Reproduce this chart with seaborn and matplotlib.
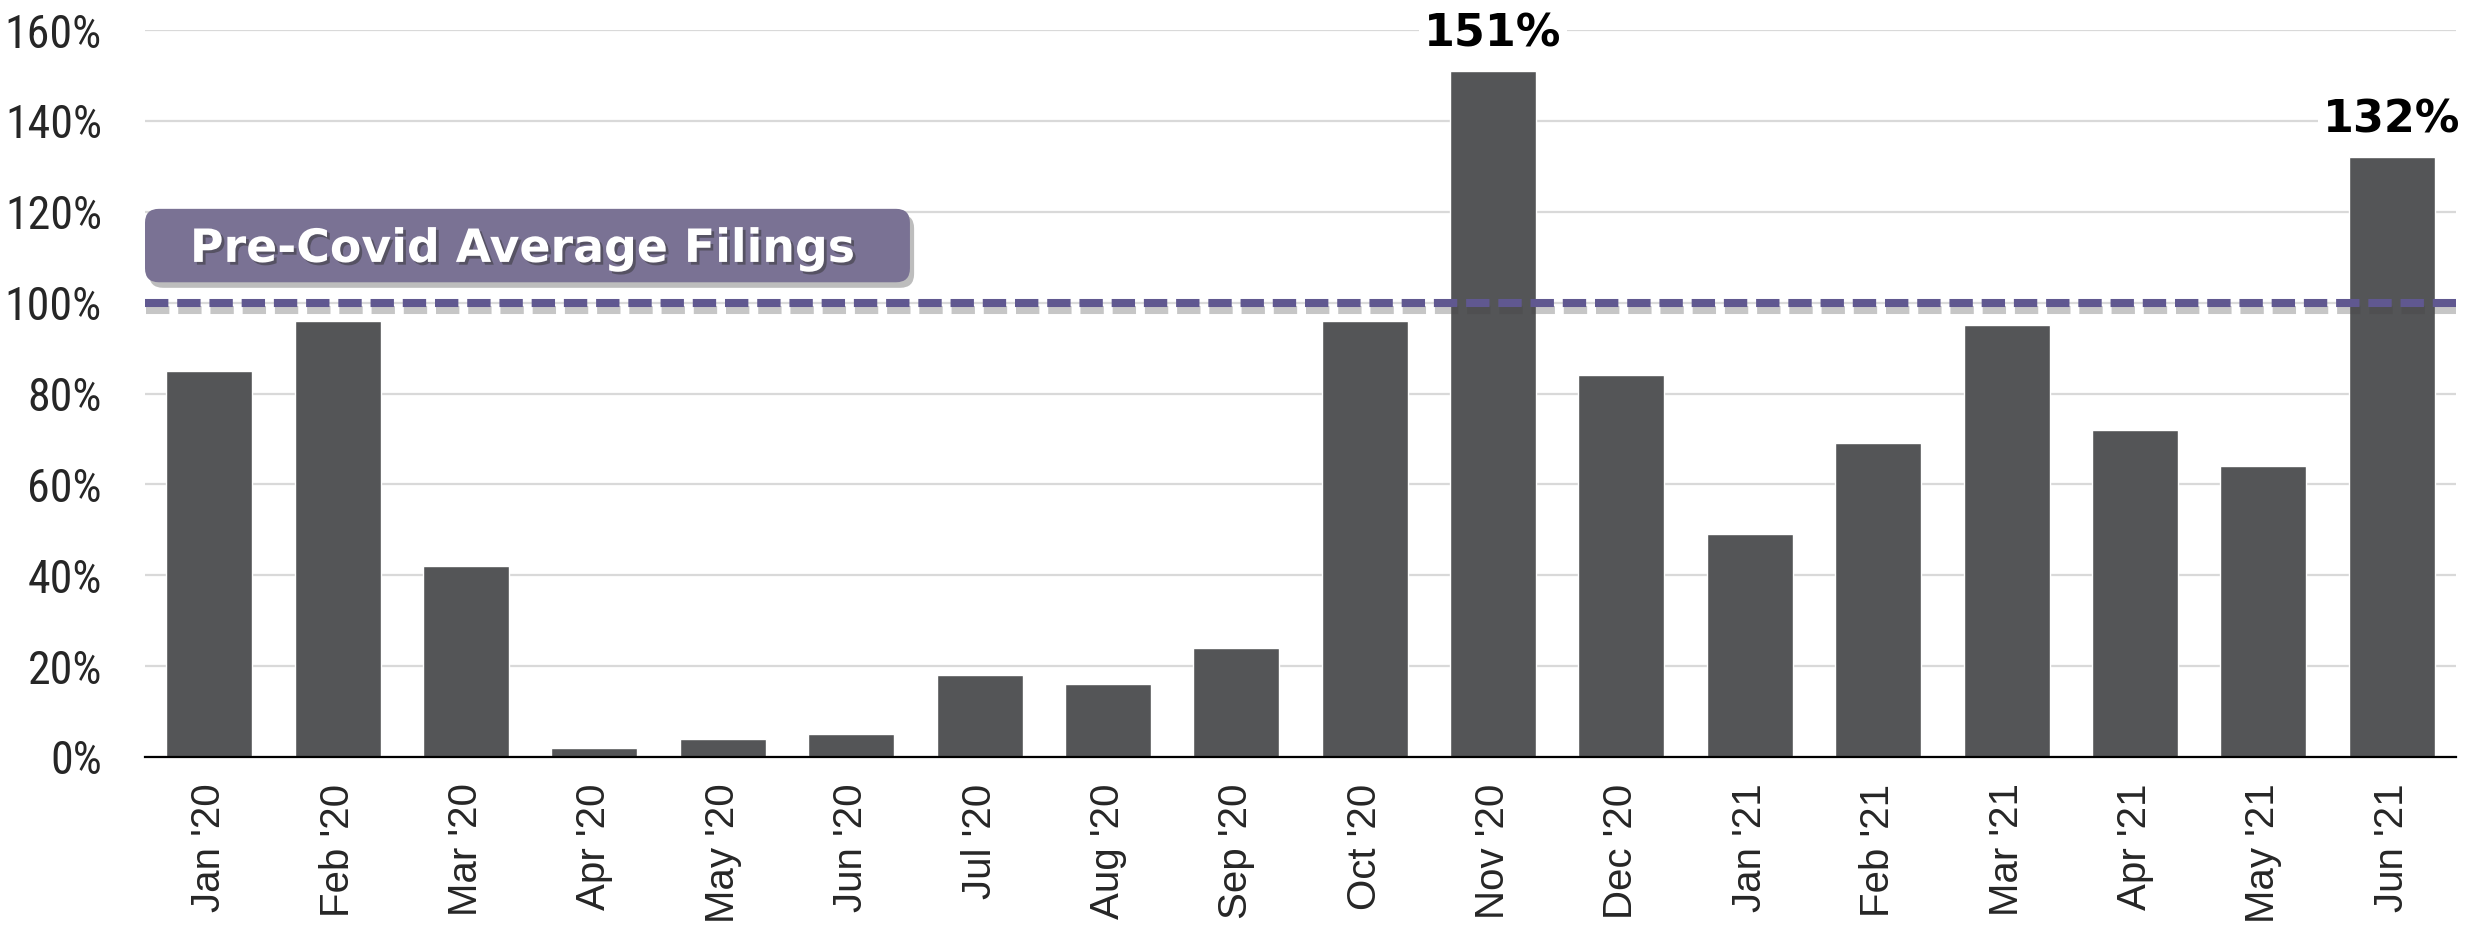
import seaborn as sns
import pandas as pd
from matplotlib import pyplot as plt
from matplotlib import font_manager as fm
from matplotlib import patheffects as pe
from matplotlib.patches import FancyBboxPatch

# data
months = ["Jan '20", "Feb '20", "Mar '20", "Apr '20", "May '20", "Jun '20",
          "Jul '20", "Aug '20", "Sep '20", "Oct '20", "Nov '20", "Dec '20",
          "Jan '21", "Feb '21", "Mar '21", "Apr '21", "May '21", "Jun '21"]
pct_of_avg = [85, 96, 42, 2, 4, 5, 18, 16, 24, 96, 151, 84, 49, 69, 95, 72, 64, 132]
labelled = ["Nov '20", "Jun '21"]
baseline_level = 100
y_ticks = [0, 20, 40, 60, 80, 100, 120, 140, 160]


def has_font(name):
  try:
    fm.findfont(fm.FontProperties(family=name), fallback_to_default=False)
    return True
  except ValueError:
    return False


# narrow font for the y labels if one is around, else shrink regular one
narrow, ysize = "Liberation Sans", 27
for cand, size in [("Liberation Sans Narrow", 35), ("DejaVu Sans Condensed", 31),
                   ("Roboto Condensed", 33), ("Open Sans Condensed", 33)]:
  if has_font(cand):
    narrow, ysize = cand, size
    break

sns.set_style("white")
plt.rcParams["font.family"] = ["Liberation Sans", "DejaVu Sans"]

df = pd.DataFrame({"month": months, "pct": pct_of_avg})

W, H = 2469, 925
fig = plt.figure(figsize=(W / 100, H / 100), dpi=100)
ax = fig.add_axes([145 / W, 1 - 757 / H, (2456 - 145) / W, (757 - 30) / H])

sns.barplot(data=df, x="month", y="pct", color="#545557", saturation=1,
            width=0.67, ax=ax, zorder=2)

# axes styling
ax.set_xlim(-0.5, len(months) - 0.5)
ax.set_ylim(0, 160)
ax.set_yticks(y_ticks)
ax.set_yticklabels([f"{t}%" for t in y_ticks], family=narrow, fontsize=ysize)
ax.tick_params(axis="y", length=0, pad=31)
ax.tick_params(axis="x", length=0, pad=19, labelsize=29, rotation=90)
ax.grid(axis="y", color="#D9D9D9", lw=1.6)
ax.set_axisbelow(True)
for s in ["top", "right", "left"]:
  ax.spines[s].set_visible(False)
ax.spines["bottom"].set_color("black")
ax.spines["bottom"].set_linewidth(1.6)
ax.spines["bottom"].set_zorder(3)
ax.set_xlabel("")
ax.set_ylabel("")

# value labels on the highlighted bars
labels = [f"{v}%" if m in labelled else "" for m, v in zip(months, pct_of_avg)]
ax.bar_label(ax.containers[0], labels=labels, padding=11, fontsize=32,
             fontweight="bold", family="DejaVu Sans", color="black",
             bbox=dict(fc="white", ec="none", pad=4), zorder=4)

# pre-covid average line
ax.axhline(baseline_level, color="#605890", lw=5.8, dashes=(2.9, 1.1), zorder=5,
           path_effects=[pe.SimpleLineShadow(offset=(1, -5), shadow_color="#444444", alpha=0.3),
                         pe.Normal()])

# label box
aw, ah = 2311, 727
box = FancyBboxPatch((0.0, 0.653), 0.331, 0.101, transform=ax.transAxes,
                     boxstyle="round,pad=0,rounding_size=0.006",
                     mutation_aspect=aw / ah, fc="#7A7294", ec="none", zorder=6,
                     path_effects=[pe.SimplePatchShadow(offset=(3, -4), shadow_rgbFace="#444444", alpha=0.35),
                                   pe.Normal()])
ax.add_patch(box)
ax.text(0.1636, 0.681, "Pre-Covid Average Filings", transform=ax.transAxes,
        ha="center", va="baseline", fontsize=33, fontweight="bold",
        family="DejaVu Sans", color="white", zorder=7,
        path_effects=[pe.withSimplePatchShadow(offset=(2, -2), shadow_rgbFace="#333333", alpha=0.5)])

fig.savefig("out.png", dpi=100)
